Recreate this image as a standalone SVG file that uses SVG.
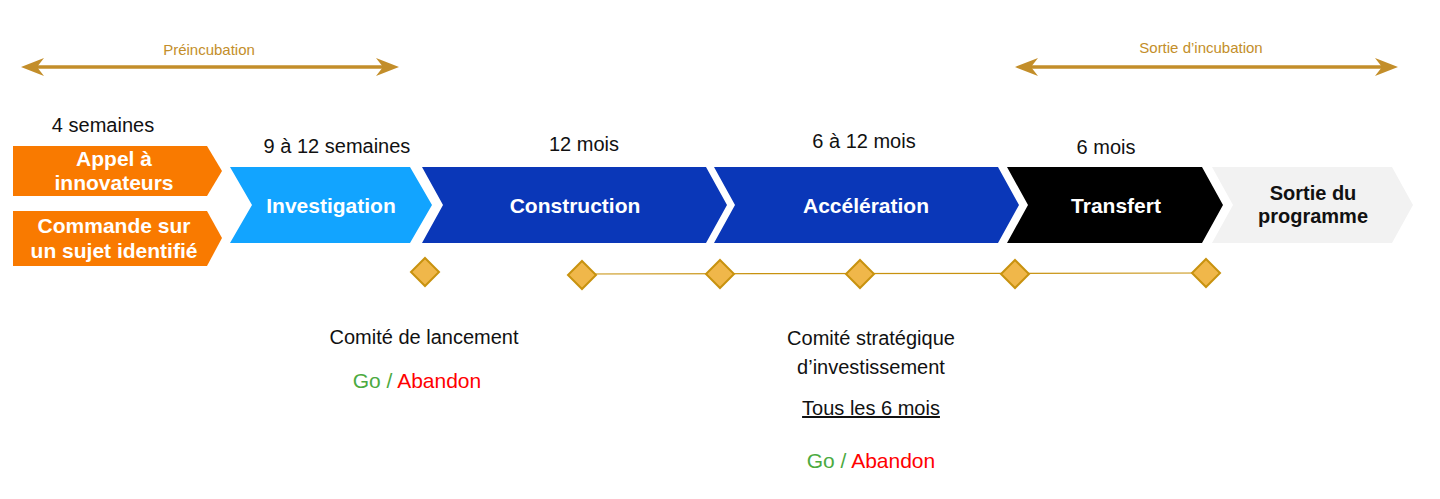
<svg xmlns="http://www.w3.org/2000/svg" width="1440" height="499" viewBox="0 0 1440 499">
<style>
text{font-family:"Liberation Sans",Arial,sans-serif}
.dur{font-size:20px;fill:#111;text-anchor:middle}
.lbl{font-size:21px;font-weight:bold;fill:#fff;text-anchor:middle}
.gold{font-size:15px;fill:#C38E2A;text-anchor:middle}
.cap{font-size:20px;fill:#111;text-anchor:middle}
.ga{font-size:21px;text-anchor:middle}
.go{fill:#4CAA3F}
.ab{fill:#FF0000}
.dia{fill:#F0B74A;stroke:#C8920F;stroke-width:2}
.bar{stroke:#C38E2A;stroke-width:3.5;fill:none}
.head{fill:#C38E2A}
</style>
<defs>
<path id="dm" d="M0,-14 L14,0 L0,14 L-14,0 Z"/>
</defs>

<g id="preincubation">
<line class="bar" x1="36" y1="67" x2="384" y2="67"/>
<path class="head" d="M21,67 L44,58 L37,67 L44,76 Z"/>
<path class="head" d="M399,67 L376,58 L383,67 L376,76 Z"/>
<text class="gold" x="209" y="55">Préincubation</text>
</g>

<g id="sortie-incubation">
<line class="bar" x1="1030" y1="67" x2="1383" y2="67"/>
<path class="head" d="M1015,67 L1038,58 L1031,67 L1038,76 Z"/>
<path class="head" d="M1398,67 L1375,58 L1382,67 L1375,76 Z"/>
<text class="gold" x="1201" y="53">Sortie d’incubation</text>
</g>

<g id="durations">
<text class="dur" x="103" y="132">4 semaines</text>
<text class="dur" x="337" y="153">9 à 12 semaines</text>
<text class="dur" x="584" y="151">12 mois</text>
<text class="dur" x="864" y="148">6 à 12 mois</text>
<text class="dur" x="1106" y="154">6 mois</text>
</g>

<g id="appel">
<path d="M13,146 L207,146 L222,171 L207,196 L13,196 Z" fill="#F97A00"/>
<text class="lbl" x="114" y="166">Appel à</text>
<text class="lbl" x="114" y="190">innovateurs</text>
</g>

<g id="commande">
<path d="M13,211 L207,211 L222,238 L207,266 L13,266 Z" fill="#F97A00"/>
<text class="lbl" x="114" y="233">Commande sur</text>
<text class="lbl" x="114" y="258">un sujet identifié</text>
</g>

<g id="investigation">
<path d="M230,167 L410,167 L432,205 L410,243 L230,243 L252,205 Z" fill="#12A4FF"/>
<text class="lbl" x="331" y="213">Investigation</text>
</g>

<g id="construction">
<path d="M422,167 L706,167 L727,205 L706,243 L422,243 L443,205 Z" fill="#0A37B8"/>
<text class="lbl" x="575" y="213">Construction</text>
</g>

<g id="acceleration">
<path d="M714,167 L998,167 L1019,205 L998,243 L714,243 L735,205 Z" fill="#0A37B8"/>
<text class="lbl" x="866" y="213">Accélération</text>
</g>

<g id="transfert">
<path d="M1007,167 L1202,167 L1223,205 L1202,243 L1007,243 L1028,205 Z" fill="#000"/>
<text class="lbl" x="1116" y="213">Transfert</text>
</g>

<g id="sortie-programme">
<path d="M1212,167 L1392,167 L1413,205 L1392,243 L1212,243 L1233,205 Z" fill="#F2F2F2"/>
<text class="lbl" x="1313" y="200" style="fill:#111;font-size:20px">Sortie du</text>
<text class="lbl" x="1313" y="223" style="fill:#111;font-size:20px">programme</text>
</g>

<g id="connectors">
<line x1="582" y1="274" x2="1206" y2="273" stroke="#C8920F" stroke-width="1.2"/>
</g>

<g id="milestones">
<use href="#dm" class="dia" x="425" y="272"/>
<use href="#dm" class="dia" x="582" y="275"/>
<use href="#dm" class="dia" x="720" y="274"/>
<use href="#dm" class="dia" x="860" y="274"/>
<use href="#dm" class="dia" x="1015" y="274"/>
<use href="#dm" class="dia" x="1206" y="273"/>
</g>

<g id="comite-lancement">
<text class="cap" x="424" y="344">Comité de lancement</text>
<text class="ga" x="417" y="388"><tspan class="go">Go /</tspan> <tspan class="ab">Abandon</tspan></text>
</g>

<g id="comite-strategique">
<text class="cap" x="871" y="345">Comité stratégique</text>
<text class="cap" x="871" y="374">d’investissement</text>
<text class="cap" x="871" y="415" text-decoration="underline">Tous les 6 mois</text>
<text class="ga" x="871" y="468"><tspan class="go">Go /</tspan> <tspan class="ab">Abandon</tspan></text>
</g>
</svg>
